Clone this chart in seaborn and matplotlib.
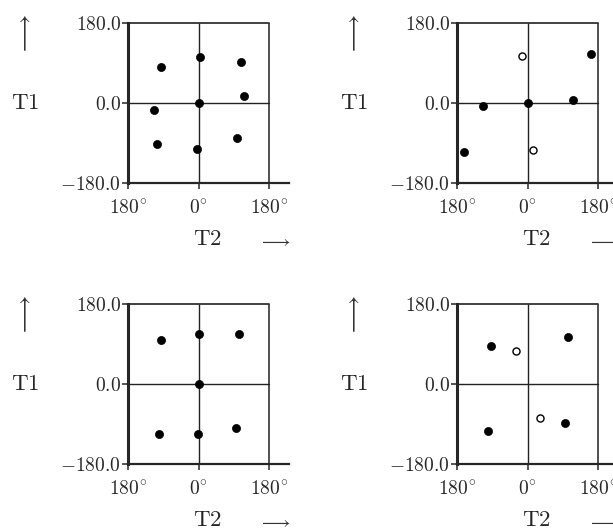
import matplotlib
matplotlib.use('Agg')
import matplotlib.pyplot as plt
import seaborn as sns
import pandas as pd

# ---- data (T2 = x, T1 = y, degrees) ----
tl_t2 = [-96, 3, 109, 115, -113, 0, -105, -3, 98]
tl_t1 = [80, 104, 93, 16, -16, 0, -92, -104, -79]

tr_filled_t2 = [-161, -113, 0, 115, 163]
tr_filled_t1 = [-111, -7, 0, 6, 110]
tr_open_t2 = [-14, 15]
tr_open_t1 = [106, -106]

bl_t2 = [-96, 2, 104, 0, -102, -1, 97]
bl_t1 = [98, 112, 113, 0, -112, -112, -100]

br_filled_t2 = [-94, 103, 96, -102]
br_filled_t1 = [86, 106, -87, -106]
br_open_t2 = [-30, 32]
br_open_t1 = [75, -77]

xticks = [-180, 0, 180]
xtick_labels = [r'$180^{\circ}$', r'$0^{\circ}$', r'$180^{\circ}$']
yticks = [-180, 0, 180]
ytick_labels = [r'$-180.0$', r'$0.0$', r'$180.0$']

sns.set_style('ticks')
plt.rcParams['mathtext.fontset'] = 'cm'
plt.rcParams['font.family'] = ['DejaVu Serif']

W, H = 613, 529
fig = plt.figure(figsize=(W / 100, H / 100), dpi=100)

# pixel layout of the top-left panel; others are offsets
ax_left, ax_top, box_w, ext_w, ax_h = 128, 23, 141, 161, 160
dx, dy = 329, 281
xmax = -180 + 360 * ext_w / box_w

panels = [
    (0, 0, tl_t2, tl_t1, [], []),
    (dx, 0, tr_filled_t2, tr_filled_t1, tr_open_t2, tr_open_t1),
    (0, dy, bl_t2, bl_t1, [], []),
    (dx, dy, br_filled_t2, br_filled_t1, br_open_t2, br_open_t1),
]

for ox, oy, fx, fy, ox_, oy_ in panels:
    left = (ax_left + ox) / W
    bottom = 1 - (ax_top + oy + ax_h) / H
    ax = fig.add_axes([left, bottom, ext_w / W, ax_h / H])
    ax.set_xlim(-180, xmax)
    ax.set_ylim(-180, 180)

    # frame and crosshair
    frac = 360 / (xmax + 180)
    ax.axhline(0, xmin=0, xmax=frac, color='#222222', lw=1.0)
    ax.axvline(0, color='#222222', lw=1.0)
    ax.axvline(180, color='#222222', lw=1.1)
    ax.axhline(180, xmin=0, xmax=frac, color='#333333', lw=1.3, clip_on=False)

    filled = pd.DataFrame({'T2': fx, 'T1': fy})
    sns.scatterplot(data=filled, x='T2', y='T1', ax=ax, color='black',
                    s=34, edgecolor='black', linewidth=0.5, zorder=5, clip_on=False)
    if ox_:
        hollow = pd.DataFrame({'T2': ox_, 'T1': oy_})
        sns.scatterplot(data=hollow, x='T2', y='T1', ax=ax, color='white',
                        s=26, edgecolor='black', linewidth=1.0, zorder=5)

    sns.despine(ax=ax)
    ax.spines['left'].set_linewidth(2.2)
    ax.spines['bottom'].set_linewidth(1.6)
    ax.set_xticks(xticks)
    ax.set_xticklabels(xtick_labels, fontsize=14)
    ax.set_yticks(yticks)
    ax.set_yticklabels(ytick_labels, fontsize=14)
    ax.tick_params(axis='x', direction='out', length=4, width=1.1, pad=8)
    ax.tick_params(axis='y', direction='out', length=4, width=1.1, pad=1)
    ax.set_xlabel('')
    ax.set_ylabel('')

    # axis names with arrows
    fig.text((25 + ox) / W, 1 - (103 + oy) / H, r'$\mathrm{T1}$', fontsize=16.5,
             ha='center', va='center')
    fig.text((24 + ox) / W, 1 - (35 + oy) / H, r'$\longrightarrow$', fontsize=17,
             rotation=90, ha='center', va='center', color='#333333')
    fig.text((207 + ox) / W, 1 - (239 + oy) / H, r'$\mathrm{T2}$', fontsize=16.5,
             ha='center', va='center')
    fig.text((274 + ox) / W, 1 - (241 + oy) / H, r'$\longrightarrow$', fontsize=13,
             ha='center', va='center', color='#333333')

fig.savefig('out.png', dpi=100)
